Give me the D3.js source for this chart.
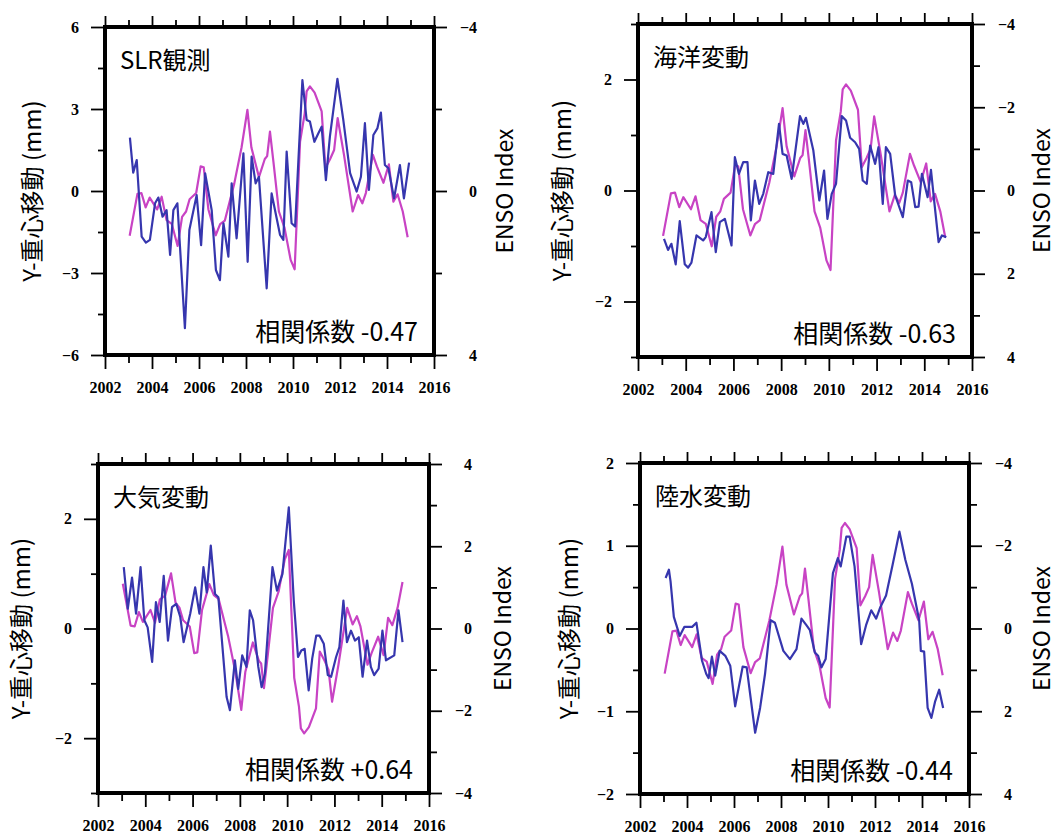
<!DOCTYPE html>
<html>
<head>
<meta charset="utf-8">
<script src="https://cdn.jsdelivr.net/npm/d3@7"></script>
<style>
    body { margin: 0; background: #fff; }
    svg text { fill: #000; }
</style>
</head>
<body>
<div id="chart"></div>
<script>
(function () {
    "use strict";

    // ENSO index (same series in every panel)
    const ensoYears = [2003.05, 2003.38, 2003.55, 2003.73, 2003.9, 2004.22, 2004.41, 2004.62, 2004.84, 2005.09,
        2005.28, 2005.45, 2005.6, 2005.88, 2006.07, 2006.2, 2006.4, 2006.71, 2006.9, 2007.1,
        2007.5, 2007.81, 2008.06, 2008.23, 2008.55, 2008.8, 2008.9, 2009.02, 2009.17, 2009.4,
        2009.64, 2009.9, 2010.07, 2010.3, 2010.5, 2010.58, 2010.72, 2010.92, 2011.22, 2011.38,
        2011.58, 2011.75, 2011.9, 2012.17, 2012.54, 2012.77, 2012.95, 2013.1, 2013.4, 2013.57,
        2013.85, 2014.08, 2014.27, 2014.45, 2014.67, 2014.88];
    const ensoValues = [1.09, 0.07, 0.05, 0.4, 0.16, 0.45, 0.14, 0.71, 0.8, 1.34,
        0.63, 0.5, 0.2, 0.05, -0.6, -0.58, 0.45, 1.08, 0.81, 0.72,
        -0.18, -1.06, -1.98, -1.06, -0.34, -0.78, -0.85, -1.45, -0.7, 0.5,
        0.9, 1.68, 1.91, -1.2, -1.9, -2.43, -2.55, -2.4, -1.94, -0.56,
        -0.78, -1.0, -1.78, -0.88, 0.5, 0.1, 0.3, 0.05, -0.88, -0.6,
        -0.2, -0.65, 0.26, 0.08, 0.5, 1.13];

    // SLR観測
    const slrYears = [2003.06, 2003.2, 2003.35, 2003.56, 2003.74, 2003.91, 2004.13, 2004.27, 2004.45, 2004.62,
        2004.77, 2004.91, 2005.08, 2005.4, 2005.59, 2005.9, 2006.09, 2006.26, 2006.54, 2006.72,
        2006.89, 2007.04, 2007.25, 2007.39, 2007.6, 2007.89, 2008.07, 2008.24, 2008.41, 2008.55,
        2008.88, 2009.09, 2009.45, 2009.59, 2009.73, 2009.94, 2010.09, 2010.4, 2010.58, 2010.72,
        2010.91, 2011.08, 2011.22, 2011.4, 2011.57, 2011.89, 2012.14, 2012.43, 2012.71, 2012.89,
        2013.06, 2013.23, 2013.42, 2013.59, 2013.74, 2013.91, 2014.06, 2014.3, 2014.55, 2014.72, 2014.94];
    const slrValues = [1.95, 0.67, 1.13, -1.67, -1.89, -1.79, -0.45, -0.24, -0.94, -0.7,
        -2.34, -0.7, -0.45, -5.02, -1.43, -0.15, -1.98, 0.65, -0.7, -2.89,
        -3.26, -1.18, -2.4, 0.28, -1.73, 1.38, -2.59, 1.26, 0.28, 0.52,
        -3.56, -0.09, -1.61, -1.79, 1.44, -1.18, -1.3, 4.06, 2.6, 2.54,
        1.8, 2.11, 2.35, 0.4, 1.99, 4.1, 2.6, 0.65, -0.02, 0.52,
        2.48, 0.04, 2.05, 2.29, 2.87, 0.95, 0.83, -0.27, 0.95, -0.27, 1.04];

    // 海洋変動
    const oceanYears = [2003.09, 2003.26, 2003.4, 2003.58, 2003.75, 2003.96, 2004.1, 2004.24, 2004.45, 2004.73,
        2004.84, 2005.08, 2005.26, 2005.43, 2005.64, 2005.92, 2006.06, 2006.23, 2006.41, 2006.59,
        2006.73, 2006.9, 2007.08, 2007.25, 2007.46, 2007.67, 2007.91, 2008.06, 2008.23, 2008.44,
        2008.79, 2008.93, 2009.04, 2009.35, 2009.6, 2009.8, 2009.94, 2010.12, 2010.3, 2010.54,
        2010.72, 2010.89, 2011.1, 2011.27, 2011.42, 2011.59, 2011.73, 2011.94, 2012.08, 2012.26,
        2012.39, 2012.57, 2012.78, 2013.1, 2013.31, 2013.45, 2013.62, 2013.76, 2013.9, 2014.14,
        2014.28, 2014.42, 2014.6, 2014.74, 2014.92];
    const oceanValues = [-0.87, -1.07, -0.96, -1.33, -0.55, -1.33, -1.39, -1.3, -0.81, -0.9,
        -0.84, -0.39, -1.11, -0.57, -0.51, -0.99, 0.6, 0.3, 0.51, 0.51,
        -0.54, 0.18, -0.24, -0.06, 0.33, 0.3, 1.2, 0.66, 0.63, 0.21,
        1.34, 1.2, 1.31, 0.72, -0.18, 0.36, -0.51, -0.06, 0.12, 1.34,
        1.26, 0.95, 0.87, 0.75, 0.18, 0.12, 0.81, 0.48, 0.78, -0.24,
        0.78, 0.66, -0.09, -0.48, 0.18, 0.15, -0.3, -0.29, 0.3, -0.12,
        0.37, -0.21, -0.93, -0.81, -0.84];

    // 大気変動
    const atmYears = [2003.09, 2003.26, 2003.44, 2003.61, 2003.8, 2003.96, 2004.1, 2004.29, 2004.45, 2004.61,
        2004.78, 2004.96, 2005.13, 2005.31, 2005.48, 2005.62, 2005.9, 2006.11, 2006.29, 2006.46,
        2006.6, 2006.77, 2006.95, 2007.09, 2007.44, 2007.58, 2007.79, 2007.93, 2008.1, 2008.28,
        2008.42, 2008.56, 2008.78, 2008.92, 2009.06, 2009.38, 2009.57, 2009.8, 2010.07, 2010.28,
        2010.46, 2010.6, 2010.74, 2010.91, 2011.06, 2011.23, 2011.37, 2011.55, 2011.72, 2011.86,
        2012.07, 2012.21, 2012.38, 2012.53, 2012.7, 2012.87, 2013.03, 2013.19, 2013.38, 2013.54,
        2013.68, 2013.87, 2014.03, 2014.18, 2014.53, 2014.71, 2014.88];
    const atmValues = [1.12, 0.36, 0.93, 0.27, 1.12, 0.15, 0.02, -0.61, 0.48, 0.12,
        0.96, -0.22, 0.39, 0.45, 0.21, -0.25, 0.27, 0.75, 0.27, 1.12,
        0.66, 1.51, 0.63, 0.57, -1.25, -1.49, -0.58, -1.1, -0.49, -0.7,
        0.33, 0.15, -0.7, -1.07, -0.82, 1.12, 0.69, 0.99, 2.21, 0.51,
        -0.52, -0.4, -0.37, -1.13, -0.55, -0.13, -0.13, -0.28, -0.85, -0.88,
        -0.52, -0.34, 0.51, -0.25, -0.04, -0.22, -0.16, -0.88, -0.22, -0.7,
        -0.85, -0.73, -0.04, -0.58, -0.49, 0.33, -0.25];

    // 陸水変動
    const landYears = [2003.09, 2003.23, 2003.3, 2003.44, 2003.69, 2003.89, 2004.22, 2004.4, 2004.64, 2004.82,
        2004.92, 2005.06, 2005.2, 2005.39, 2005.63, 2005.84, 2006.05, 2006.37, 2006.54, 2006.9,
        2007.11, 2007.32, 2007.56, 2007.74, 2008.1, 2008.38, 2008.66, 2008.87, 2009.08, 2009.23,
        2009.44, 2009.58, 2009.72, 2009.9, 2010.21, 2010.42, 2010.54, 2010.78, 2010.92, 2011.13,
        2011.41, 2011.62, 2011.84, 2012.05, 2012.23, 2012.47, 2012.75, 2013.04, 2013.29, 2013.57,
        2013.88, 2013.95, 2014.09, 2014.24, 2014.4, 2014.56, 2014.73, 2014.9];
    const landValues = [0.61, 0.71, 0.57, 0.14, -0.09, 0.02, 0.02, 0.07, -0.39, -0.55,
        -0.6, -0.34, -0.57, -0.27, -0.33, -0.45, -0.94, -0.46, -0.47, -1.26,
        -0.96, -0.55, 0.1, 0.07, -0.27, -0.37, -0.25, 0.12, 0.04, -0.02,
        -0.29, -0.33, -0.47, -0.37, 0.67, 0.85, 0.75, 1.11, 1.11, 0.75,
        -0.19, 0.04, 0.22, 0.12, 0.26, 0.4, 0.77, 1.17, 0.83, 0.54,
        0.1, -0.27, -0.28, -0.96, -1.08, -0.88, -0.74, -0.96];

    const xMajorTicks = [2002, 2004, 2006, 2008, 2010, 2012, 2014, 2016];
    const xMinorTicks = [2003, 2005, 2007, 2009, 2011, 2013, 2015];

    const panelTitles = ["SLR観測", "海洋変動", "大気変動", "陸水変動"];
    const corrLabels = ["相関係数 -0.47", "相関係数 -0.63", "相関係数 +0.64", "相関係数 -0.44"];

    const BLUE = "#3636ae";
    const PINK = "#c843c4";
    const tickFont = "'Liberation Serif', 'DejaVu Serif', serif";
    const textFont = "'Noto Sans CJK JP', 'Noto Sans', sans-serif";

    const svg = d3.select("#chart")
        .append("svg")
        .attr("width", 1061)
        .attr("height", 834);

    function panel(cfg) {
        const g = svg.append("g");
        const x = d3.scaleLinear().domain([2002, 2016]).range([cfg.left, cfg.right]);
        const y = d3.scaleLinear().domain(cfg.yDomain).range([cfg.bottom, cfg.top]);
        const yr = d3.scaleLinear()
            .domain(cfg.invert ? [4, -4] : [-4, 4])
            .range([cfg.bottom, cfg.top]);

        function styleAxis(sel) {
            sel.select(".domain").remove();
            sel.selectAll(".tick line").attr("stroke", "#000").attr("stroke-width", 1.8);
            sel.selectAll(".tick text")
                .style("font-family", tickFont)
                .style("font-weight", "bold")
                .style("font-size", "16px");
        }

        // x axes (bottom with labels, top without)
        g.append("g").attr("transform", "translate(0," + cfg.bottom + ")")
            .call(d3.axisBottom(x).tickValues(xMajorTicks).tickSize(14).tickPadding(13).tickFormat(d3.format("d")))
            .call(styleAxis);
        g.append("g").attr("transform", "translate(0," + cfg.bottom + ")")
            .call(d3.axisBottom(x).tickValues(xMinorTicks).tickSize(8).tickFormat(""))
            .call(styleAxis);
        g.append("g").attr("transform", "translate(0," + cfg.top + ")")
            .call(d3.axisTop(x).tickValues(xMajorTicks).tickSize(11).tickFormat(""))
            .call(styleAxis);
        g.append("g").attr("transform", "translate(0," + cfg.top + ")")
            .call(d3.axisTop(x).tickValues(xMinorTicks).tickSize(7).tickFormat(""))
            .call(styleAxis);

        // left axis
        g.append("g").attr("transform", "translate(" + cfg.left + ",0)")
            .call(d3.axisLeft(y).tickValues(cfg.yMajor).tickSize(14).tickPadding(12).tickFormat(d3.format("d")))
            .call(styleAxis);
        g.append("g").attr("transform", "translate(" + cfg.left + ",0)")
            .call(d3.axisLeft(y).tickValues(cfg.yMinor).tickSize(7).tickFormat(""))
            .call(styleAxis);

        // right axis (ENSO)
        const ra = g.append("g").attr("transform", "translate(" + cfg.right + ",0)")
            .call(d3.axisRight(yr).tickValues(cfg.rMajor).tickSize(13).tickFormat(d3.format("d")))
            .call(styleAxis);
        ra.selectAll(".tick text").attr("x", 43).attr("text-anchor", "end");
        g.append("g").attr("transform", "translate(" + cfg.right + ",0)")
            .call(d3.axisRight(yr).tickValues(cfg.rMinor).tickSize(8).tickFormat(""))
            .call(styleAxis);

        // lines
        const ensoLine = d3.line()
            .x(function (d, i) { return x(ensoYears[i]); })
            .y(function (d) { return yr(d); });
        const dataLine = d3.line()
            .x(function (d, i) { return x(cfg.years[i]); })
            .y(function (d) { return y(d); });

        g.append("path")
            .attr("d", ensoLine(ensoValues))
            .attr("fill", "none")
            .attr("stroke", PINK)
            .attr("stroke-width", 2.2)
            .attr("stroke-linejoin", "round");
        g.append("path")
            .attr("d", dataLine(cfg.values))
            .attr("fill", "none")
            .attr("stroke", BLUE)
            .attr("stroke-width", 2.2)
            .attr("stroke-linejoin", "round");

        // frame
        g.append("rect")
            .attr("x", cfg.left)
            .attr("y", cfg.top)
            .attr("width", cfg.right - cfg.left)
            .attr("height", cfg.bottom - cfg.top)
            .attr("fill", "none")
            .attr("stroke", "#000")
            .attr("stroke-width", 4);

        // texts
        g.append("text")
            .attr("x", cfg.left + 15)
            .attr("y", cfg.top + 42)
            .style("font-family", textFont)
            .style("font-size", "24px")
            .text(cfg.title);
        g.append("text")
            .attr("x", cfg.right - 16)
            .attr("y", cfg.bottom - 14)
            .attr("text-anchor", "end")
            .style("font-family", textFont)
            .style("font-size", "25px")
            .text(cfg.corr);

        const midY = (cfg.top + cfg.bottom) / 2;
        g.append("text")
            .attr("transform", "translate(" + (cfg.left - cfg.yLabelOffset) + "," + midY + ") rotate(-90)")
            .attr("dy", "0.35em")
            .attr("text-anchor", "middle")
            .style("font-family", textFont)
            .style("font-size", "24px")
            .text("Y-重心移動 (mm)");
        g.append("text")
            .attr("transform", "translate(" + (cfg.right + cfg.rLabelOffset) + "," + midY + ") rotate(-90)")
            .attr("dy", "0.35em")
            .attr("text-anchor", "middle")
            .style("font-family", textFont)
            .style("font-size", "23px")
            .text("ENSO Index");
    }

    panel({
        left: 105, right: 434, top: 27, bottom: 355,
        yDomain: [-6, 6], yMajor: [-6, -3, 0, 3, 6], yMinor: [-4.5, -1.5, 1.5, 4.5],
        invert: true, rMajor: [-4, 0, 4], rMinor: [-2, 2],
        years: slrYears, values: slrValues,
        title: panelTitles[0], corr: corrLabels[0],
        yLabelOffset: 72, rLabelOffset: 71
    });
    panel({
        left: 638, right: 972, top: 24, bottom: 357,
        yDomain: [-3, 3], yMajor: [-2, 0, 2], yMinor: [-3, -1, 1, 3],
        invert: true, rMajor: [-4, -2, 0, 2, 4], rMinor: [-3, -1, 1, 3],
        years: oceanYears, values: oceanValues,
        title: panelTitles[1], corr: corrLabels[1],
        yLabelOffset: 75, rLabelOffset: 70
    });
    panel({
        left: 98, right: 429, top: 464, bottom: 793,
        yDomain: [-3, 3], yMajor: [-2, 0, 2], yMinor: [-3, -1, 1, 3],
        invert: false, rMajor: [-4, -2, 0, 2, 4], rMinor: [-3, -1, 1, 3],
        years: atmYears, values: atmValues,
        title: panelTitles[2], corr: corrLabels[2],
        yLabelOffset: 76, rLabelOffset: 74
    });
    panel({
        left: 640, right: 969, top: 463, bottom: 794,
        yDomain: [-2, 2], yMajor: [-2, -1, 0, 1, 2], yMinor: [-1.5, -0.5, 0.5, 1.5],
        invert: true, rMajor: [-4, -2, 0, 2, 4], rMinor: [-3, -1, 1, 3],
        years: landYears, values: landValues,
        title: panelTitles[3], corr: corrLabels[3],
        yLabelOffset: 70, rLabelOffset: 73
    });
})();
</script>
</body>
</html>
